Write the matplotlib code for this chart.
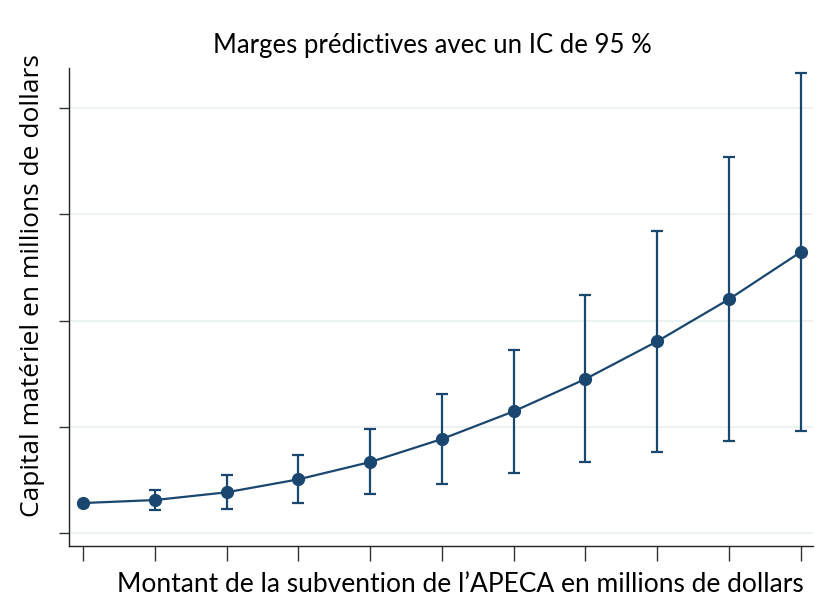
import matplotlib.pyplot as plt
import numpy as np

# predictive margins with 95% CI
subsidy = list(range(11))
margin = [28.0, 30.8, 38.1, 50.3, 66.6, 88.3, 114.4, 144.9, 180.4, 220.1, 264.6]
ci_low = [28.0, 21.7, 22.3, 27.7, 36.2, 45.9, 56.3, 66.4, 76.3, 86.1, 96.1]
ci_high = [28.0, 40.0, 54.4, 72.9, 97.7, 130.8, 172.2, 223.8, 284.4, 353.8, 433.0]
y_ticks = [0, 100, 200, 300, 400]

title = "Marges prédictives avec un IC de 95 %"
xlabel = "Montant de la subvention de l\u2019APECA en millions de dollars"
ylabel = "Capital matériel en millions de dollars"

navy = "#1a476f"
grid_col = "#edf2f2"

fig = plt.figure(figsize=(8.2, 6.01), dpi=100)
ax = fig.add_axes([69 / 820, 55 / 601, 744 / 820, 478 / 601])

m = np.array(margin)
lo = m - np.array(ci_low)
hi = np.array(ci_high) - m
ax.errorbar(subsidy[1:], m[1:], yerr=[lo[1:], hi[1:]], fmt="none",
            ecolor=navy, elinewidth=1.6, capsize=4.5, capthick=1.6, zorder=2)
ax.plot(subsidy, margin, "-o", color=navy, lw=1.6, ms=8.5, zorder=3)

ax.set_xlim(-0.195, 10.17)
ax.set_ylim(-12.5, 438)
ax.set_xticks(subsidy)
ax.set_yticks(y_ticks)
ax.set_xticklabels([])
ax.set_yticklabels([])
ax.tick_params(axis="x", length=11, width=1, color="#333333")
ax.tick_params(axis="y", length=7, width=1, color="#333333")
ax.grid(axis="y", color=grid_col, lw=1.5)
ax.set_axisbelow(True)
ax.patch.set_visible(False)
for s in ("top", "right"):
    ax.spines[s].set_visible(False)
for s in ("left", "bottom"):
    ax.spines[s].set_color("#222222")
    ax.spines[s].set_linewidth(1)

fig.text(432 / 820, 1 - 45 / 601, title, ha="center", va="center",
         fontsize=18.5, family="Lato")
fig.text(460 / 820, 1 - 585 / 601, xlabel, ha="center", va="center",
         fontsize=19, family="Lato")
fig.text(33 / 820, 1 - 286 / 601, ylabel, ha="center", va="center",
         rotation=90, fontsize=19, family="Open Sans")

fig.savefig("out.png", dpi=100)
